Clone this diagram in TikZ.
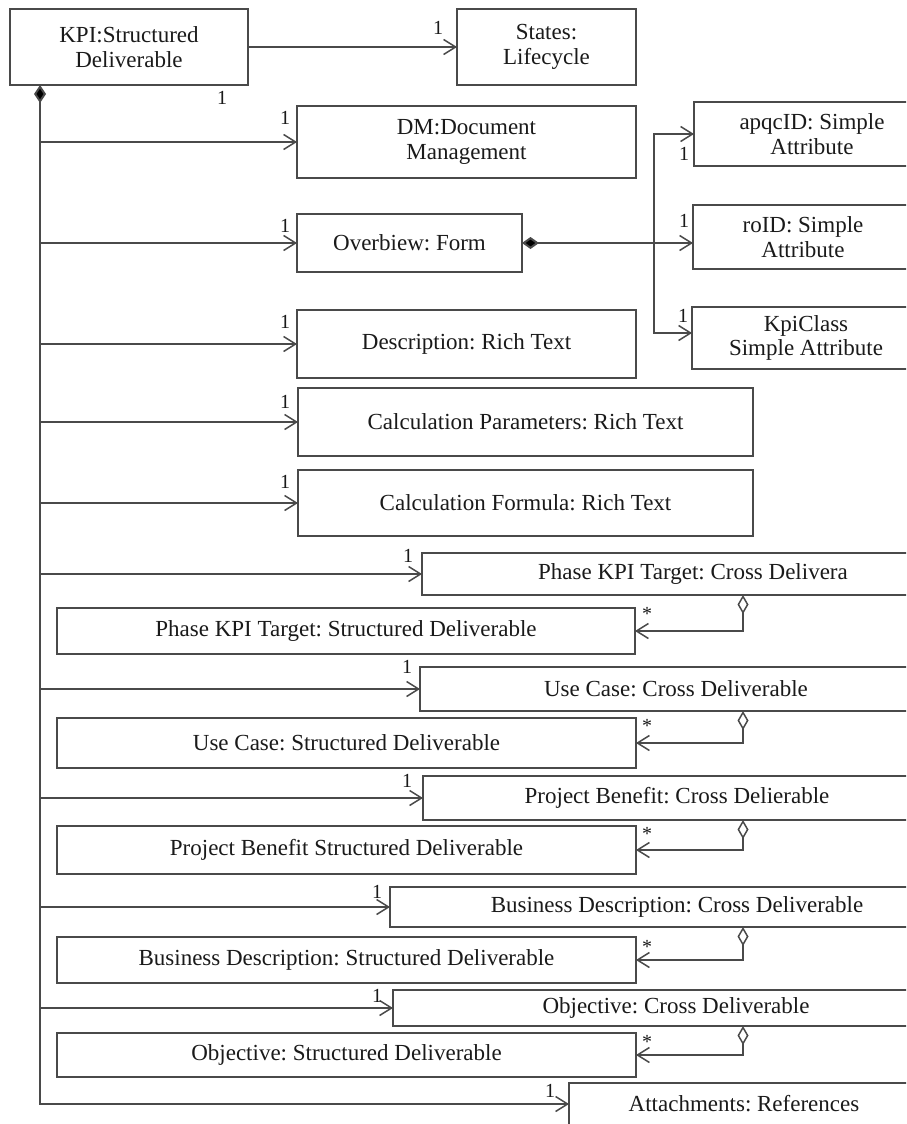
\documentclass[tikz,border=0pt]{standalone}
\usepackage{fontspec}
\setmainfont{Liberation Serif}
\usetikzlibrary{arrows.meta}
\definecolor{lc}{HTML}{4A4A4A}
\definecolor{tc}{HTML}{1A1A1A}
\newcommand{\boxfont}{\frenchspacing\fontsize{23}{24.5}\selectfont}
\newcommand{\multfont}{\fontsize{20}{22}\selectfont}
\tikzset{
  umlbox/.style={draw=lc, line width=2pt, anchor=north west, inner sep=0pt, outer sep=0pt,
                 align=center, font=\boxfont, text=tc},
  mult/.style={font=\multfont, text=tc, inner sep=0pt, anchor=base},
  conn/.style={draw=lc, line width=2pt},
  barb/.tip={Straight Barb[length=12pt,width=15pt,line width=1.5pt]},
  assoc/.style={conn, -barb},
  comp/.style={conn, {Diamond[length=18pt,width=12pt,fill=black]}-barb},
  compline/.style={conn, {Diamond[length=17pt,width=12pt,fill=black]}-},
  agg/.style={conn, {Diamond[open,length=19pt,width=11pt,fill=white,line width=1.5pt]}-barb},
}
\begin{document}
\begin{tikzpicture}[x=1pt,y=-1pt]
\path[use as bounding box, fill=white] (0,0) rectangle (906,1124);
\clip (0,0) rectangle (906,1124);

% boxes
\node[umlbox, minimum width=238, minimum height=76] (kpi) at (10,9) {KPI:Structured\\Deliverable};
\node[umlbox, minimum width=179, minimum height=76] (states) at (457,9) {States:\\Lifecycle};
\node[umlbox, minimum width=339, minimum height=72] (dm) at (297,106) {DM:Document\\Management};
\node[umlbox, minimum width=225, minimum height=58] (form) at (297,214) {Overbiew: Form};
\node[umlbox, minimum width=236, minimum height=64] (apqc) at (694,102) {apqcID: Simple\\Attribute};
\node[umlbox, minimum width=220, minimum height=64] (roid) at (693,205) {roID: Simple\\Attribute};
\node[umlbox, minimum width=228, minimum height=62] (kpic) at (692,307) {KpiClass\\Simple Attribute};
\node[umlbox, minimum width=339, minimum height=68] (desc) at (297,310) {Description: Rich Text};
\node[umlbox, minimum width=455, minimum height=68] (calcp) at (298,388) {Calculation Parameters: Rich Text};
\node[umlbox, minimum width=455, minimum height=66] (calcf) at (298,470) {Calculation Formula: Rich Text};
\node[umlbox, minimum width=542, minimum height=42] (phc) at (422,553) {Phase KPI Target: Cross Delivera};
\node[umlbox, minimum width=578, minimum height=46] (phs) at (57,608) {Phase KPI Target: Structured Deliverable};
\node[umlbox, minimum width=512, minimum height=44] (ucc) at (420,667) {Use Case: Cross Deliverable};
\node[umlbox, minimum width=579, minimum height=50] (ucs) at (57,718) {Use Case: Structured Deliverable};
\node[umlbox, minimum width=508, minimum height=44] (pbc) at (423,776) {Project Benefit: Cross Delierable};
\node[umlbox, minimum width=579, minimum height=48] (pbs) at (57,826) {Project Benefit Structured Deliverable};
\node[umlbox, minimum width=574, minimum height=40] (bdc) at (390,887) {Business Description: Cross Deliverable};
\node[umlbox, minimum width=579, minimum height=46] (bds) at (57,937) {Business Description: Structured Deliverable};
\node[umlbox, minimum width=566, minimum height=36] (obc) at (393,990) {Objective: Cross Deliverable};
\node[umlbox, minimum width=579, minimum height=44] (obs) at (57,1033) {Objective: Structured Deliverable};
\node[umlbox, minimum width=350, minimum height=42] (att) at (569,1083) {Attachments: References};

% connectors
\coordinate (trunk) at (40,0);
\draw[assoc] (kpi.east) -- (states.west);
\draw[comp] (kpi.south -| trunk) |- (att.west);
\foreach \n in {dm,form,desc,calcp,calcf,phc,ucc,pbc,bdc,obc}
  \draw[assoc] (trunk |- \n.west) -- (\n.west);

\coordinate (fj) at (654,243);
\draw[compline] (form.east) -- (fj);
\draw[assoc] (fj) |- (apqc.west);
\draw[assoc] (fj) -- (fj -| roid.west);
\draw[assoc] (fj) |- (kpic.west |- 0,333);

\draw[agg] (phc.south -| 743,0) |- (phs.east);
\draw[agg] (ucc.south -| 743,0) |- (ucs.east);
\draw[agg] (pbc.south -| 743,0) |- (pbs.east);
\draw[agg] (bdc.south -| 743,0) |- (bds.east);
\draw[agg] (obc.south -| 743,0) |- (obs.east);

% multiplicities
\node[mult] (m1) at (438,35) {1};
\node[mult] (m2) at (222,104) {1};
\node[mult] (m3) at (285,124) {1};
\node[mult] (m4) at (285,232) {1};
\node[mult] (m5) at (285,328) {1};
\node[mult] (m6) at (285,408) {1};
\node[mult] (m7) at (285,488) {1};
\node[mult] (m8) at (408,562) {1};
\node[mult] (m9) at (407,673) {1};
\node[mult] (m10) at (407,787) {1};
\node[mult] (m11) at (377,898) {1};
\node[mult] (m12) at (377,1002) {1};
\node[mult] (m13) at (550,1097) {1};
\node[mult] (m14) at (684,160) {1};
\node[mult] (m15) at (684,227) {1};
\node[mult] (m16) at (683,322) {1};
\node[mult] (s1) at (647,620) {*};
\node[mult] (s2) at (647,732) {*};
\node[mult] (s3) at (647,840) {*};
\node[mult] (s4) at (647,953) {*};
\node[mult] (s5) at (647,1048) {*};
\end{tikzpicture}
\end{document}
